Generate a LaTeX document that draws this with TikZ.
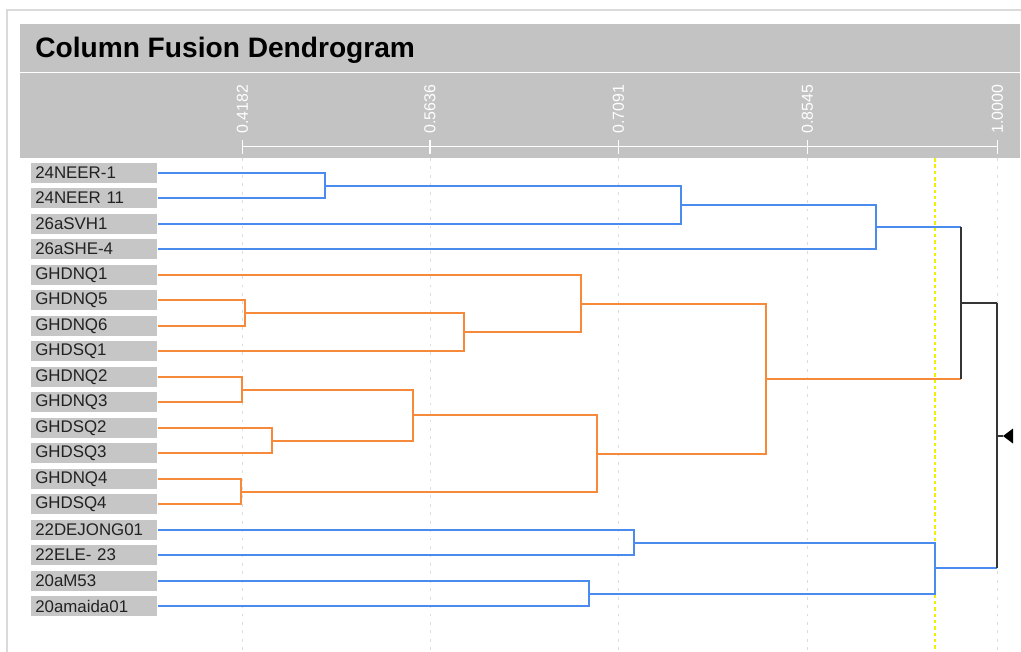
\documentclass[tikz,border=0pt]{standalone}
\usepackage{fontspec}
\setmainfont{Liberation Sans}
\usetikzlibrary{positioning}
\definecolor{bandgray}{HTML}{C3C3C3}
\definecolor{boxgray}{HTML}{C6C6C6}
\definecolor{labtext}{HTML}{222222}
\definecolor{linkblue}{HTML}{4A8BEF}
\definecolor{linkorange}{HTML}{F7893B}
\definecolor{linkblack}{HTML}{353535}
\definecolor{cutyellow}{HTML}{F0F000}
\definecolor{gridgray}{HTML}{DDDDDD}
\definecolor{framegray}{HTML}{DADADA}

\begin{document}
\begin{tikzpicture}[
    x=0.025cm, y=-0.025cm,
    leaf/.style={fill=boxgray, anchor=west, minimum height=0.5cm, text width=2.95cm, inner xsep=0.1cm, inner ysep=0pt, align=left, text=labtext, font=\fontsize{12}{14}\selectfont},
    axlbl/.style={rotate=90, anchor=west, inner sep=0pt, text=white, font=\fontsize{11.3}{13}\selectfont},
    blu/.style={draw=linkblue, line width=1pt},
    org/.style={draw=linkorange, line width=1pt},
    blk/.style={draw=linkblack, line width=1pt}
]
\useasboundingbox (0,0) rectangle (1021,652);

% frame, title bar, axis band
\draw[framegray, line width=0.8pt] (7,652) -- (7,10) -- (1021,10);
\fill[bandgray] (20,24) rectangle (1020,71.5);
\fill[bandgray] (20,73) rectangle (1020,158);
\node[anchor=base west, inner sep=0pt, font=\fontsize{20}{24}\selectfont\bfseries, text=black] (title) at (35,57) {Column Fusion Dendrogram};

% axis
\draw[white, line width=0.8pt] (242.3,146.7) -- (997.3,146.7);
\draw[white, line width=0.8pt] (242.3,140) -- (242.3,154);
\draw[white, line width=0.8pt] (430,140) -- (430,154);
\draw[white, line width=0.8pt] (618.3,140) -- (618.3,154);
\draw[white, line width=0.8pt] (807.3,140) -- (807.3,154);
\draw[white, line width=0.8pt] (997.3,140) -- (997.3,154);
\node[axlbl] (t1) at (242.3,134) {0.4182};
\node[axlbl] (t2) at (430,134) {0.5636};
\node[axlbl] (t3) at (618.3,134) {0.7091};
\node[axlbl] (t4) at (807.3,134) {0.8545};
\node[axlbl] (t5) at (997.3,134) {1.0000};

% grid and cut line
\draw[gridgray, dash pattern=on 2pt off 4pt] (242.3,158) -- (242.3,652);
\draw[gridgray, dash pattern=on 2pt off 4pt] (430,158) -- (430,652);
\draw[gridgray, dash pattern=on 2pt off 4pt] (618.3,158) -- (618.3,652);
\draw[gridgray, dash pattern=on 2pt off 4pt] (807.3,158) -- (807.3,652);
\draw[gridgray, dash pattern=on 2pt off 4pt] (997.3,158) -- (997.3,652);
\draw[cutyellow, dash pattern=on 2.5pt off 2pt, line width=0.8pt] (935,158) -- (935,652);

% leaves
\node[leaf] (n1) at (31,173) {24NEER-1};
\node[leaf] (n11) at (31,198) {24NEER 11};
\node[leaf] (svh) at (31,224) {26aSVH1};
\node[leaf] (she) at (31,249) {26aSHE-4};
\node[leaf] (dnq1) at (31,275) {GHDNQ1};
\node[leaf] (dnq5) at (31,300) {GHDNQ5};
\node[leaf] (dnq6) at (31,326) {GHDNQ6};
\node[leaf] (dsq1) at (31,351) {GHDSQ1};
\node[leaf] (dnq2) at (31,377) {GHDNQ2};
\node[leaf] (dnq3) at (31,402) {GHDNQ3};
\node[leaf] (dsq2) at (31,428) {GHDSQ2};
\node[leaf] (dsq3) at (31,453) {GHDSQ3};
\node[leaf] (dnq4) at (31,479) {GHDNQ4};
\node[leaf] (dsq4) at (31,504) {GHDSQ4};
\node[leaf] (dej) at (31,530) {22DEJONG01};
\node[leaf] (ele) at (31,555) {22ELE- 23};
\node[leaf] (m53) at (31,581) {20aM53};
\node[leaf] (maida) at (31,606) {20amaida01};

% merge points
\coordinate (cneer) at (325,186);
\coordinate (csvh) at (681,205);
\coordinate (cshe) at (876,227);
\coordinate (c56) at (245,313);
\coordinate (c56s) at (464,332);
\coordinate (cdnq1) at (581,304);
\coordinate (c23) at (242,390);
\coordinate (cs23) at (272,441);
\coordinate (c2323) at (413,415);
\coordinate (c4) at (241,492);
\coordinate (c4all) at (597,454);
\coordinate (cghd) at (766,379);
\coordinate (ctop) at (961,303);
\coordinate (cdej) at (634,543);
\coordinate (cam) at (589,594);
\coordinate (clow) at (935,568);
\coordinate (croot) at (997,436);

% upper blue cluster
\draw[blu] (n1.east) -| (cneer) |- (n11.east);
\draw[blu] (cneer) -| (csvh) |- (svh.east);
\draw[blu] (csvh) -| (cshe) |- (she.east);

% orange cluster
\draw[org] (dnq5.east) -| (c56) |- (dnq6.east);
\draw[org] (c56) -| (c56s) |- (dsq1.east);
\draw[org] (dnq1.east) -| (cdnq1) |- (c56s);
\draw[org] (dnq2.east) -| (c23) |- (dnq3.east);
\draw[org] (dsq2.east) -| (cs23) |- (dsq3.east);
\draw[org] (c23) -| (c2323) |- (cs23);
\draw[org] (dnq4.east) -| (c4) |- (dsq4.east);
\draw[org] (c2323) -| (c4all) |- (c4);
\draw[org] (cdnq1) -| (cghd) |- (c4all);

% lower blue cluster
\draw[blu] (dej.east) -| (cdej) |- (ele.east);
\draw[blu] (m53.east) -| (cam) |- (maida.east);
\draw[blu] (cdej) -| (clow) |- (cam);

% mixed joins
\draw[blu] (cshe) -- (cshe -| ctop);
\draw[org] (cghd) -- (cghd -| ctop);
\draw[blk] (cshe -| ctop) -- (cghd -| ctop);
\draw[blk] (ctop) -- (ctop -| croot);
\draw[blu] (clow) -- (clow -| croot);
\draw[blk] (ctop -| croot) -- (clow -| croot);
\draw[blk] (croot) -- ++(6,0) coordinate (tip);
\fill[black] (tip) -- ++(10,-7.5) -- ++(0,15) -- cycle;
\end{tikzpicture}
\end{document}
